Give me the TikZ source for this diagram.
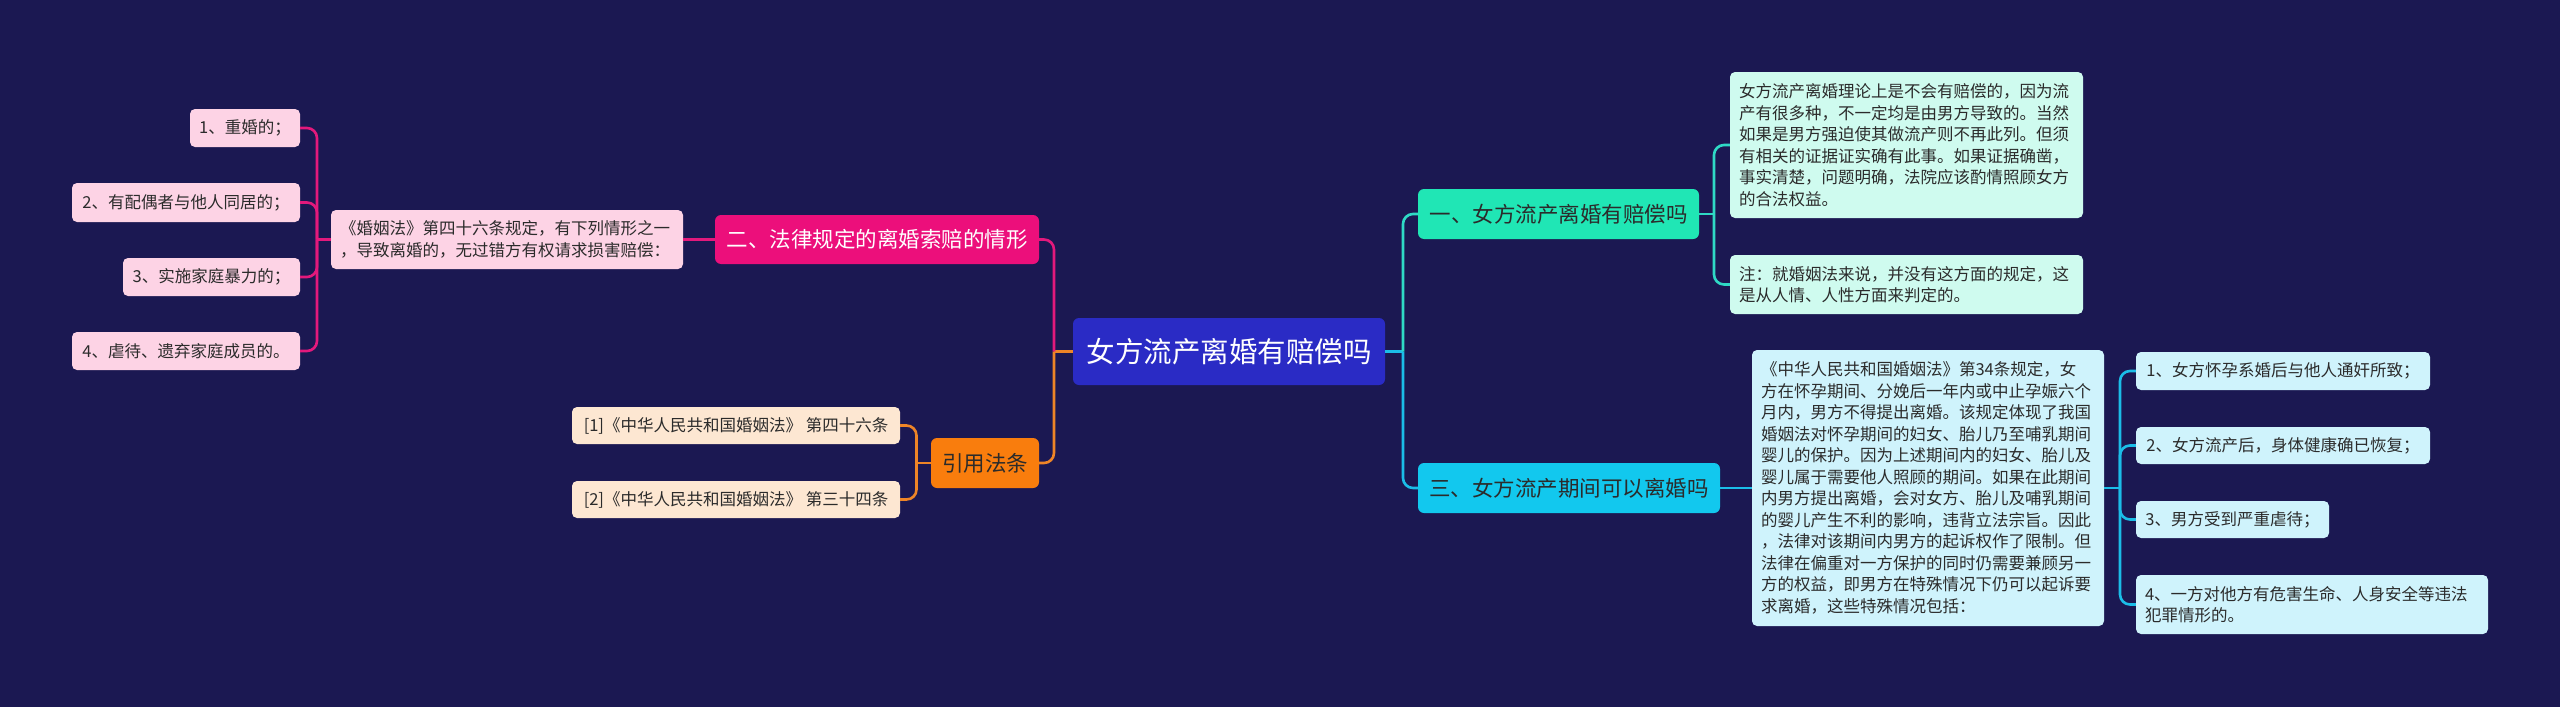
\documentclass[tikz,border=0pt]{standalone}
\usepackage{fontspec}
\setmainfont{Noto Sans CJK SC}
\definecolor{bg}{HTML}{1B1852}
\definecolor{rootfill}{HTML}{2A2BC5}
\definecolor{onefill}{HTML}{20E6B5}
\definecolor{threefill}{HTML}{12C8EE}
\definecolor{twofill}{HTML}{EC0F7B}
\definecolor{reffill}{HTML}{F97D0D}
\definecolor{afill}{HTML}{CFFBEF}
\definecolor{bfill}{HTML}{CFF3FC}
\definecolor{pfill}{HTML}{FDD3E5}
\definecolor{rfill}{HTML}{FDE7D2}
\definecolor{tealline}{HTML}{2FD9C5}
\definecolor{blueline}{HTML}{1BBDE8}
\definecolor{pinkline}{HTML}{E3197C}
\definecolor{orangeline}{HTML}{EE8527}
\definecolor{txt}{HTML}{2B2B2B}
\begin{document}
\begin{tikzpicture}[x=1pt,y=-1pt,
  base/.style={rounded corners=5pt, inner xsep=9pt, inner ysep=0pt,
    font=\fontsize{16.5}{21.5}\selectfont, text=txt},
  branch/.style={rounded corners=6pt, inner xsep=6pt, inner ysep=0pt,
    font=\fontsize{21.5}{26}\selectfont, text=txt, minimum height=50pt},
  conn/.style={line width=2.6pt, rounded corners=10pt},
  tl/.style={conn, draw=tealline},
  bl/.style={conn, draw=blueline},
  pl/.style={conn, draw=pinkline},
  ol/.style={conn, draw=orangeline}]
\fill[bg] (0,0) rectangle (2560,707);
\path[use as bounding box] (0,0) rectangle (2560,707);

% nodes
\node[rounded corners=6pt, fill=rootfill, text=white, font=\fontsize{28.5}{32}\selectfont,
  minimum width=312pt, minimum height=67pt, inner sep=0pt] (root) at (1229,351.5) {女方流产离婚有赔偿吗};

\node[branch, fill=onefill, minimum width=281pt] (n1) at (1558.5,214) {一、女方流产离婚有赔偿吗};
\node[branch, fill=threefill, minimum width=302pt] (n3) at (1569,488) {三、女方流产期间可以离婚吗};
\node[branch, fill=twofill, text=white, minimum width=324pt, minimum height=49pt] (n2) at (877,239.5) {二、法律规定的离婚索赔的情形};
\node[branch, fill=reffill, minimum width=108pt] (nref) at (985,463) {引用法条};

\node[base, fill=rfill, minimum width=328pt, minimum height=37pt] (r1) at (736,425.5) {[1]《中华人民共和国婚姻法》 第四十六条};
\node[base, fill=rfill, minimum width=328pt, minimum height=37pt] (r2) at (736,499.5) {[2]《中华人民共和国婚姻法》 第三十四条};

\node[base, fill=pfill, minimum height=59pt, text width=334pt, align=left] (law) at (507,239.5)
  {《婚姻法》第四十六条规定，有下列情形之一\\，导致离婚的，无过错方有权请求损害赔偿：};
\node[base, fill=pfill, minimum width=110pt, minimum height=38pt] (p1) at (245,128) {1、重婚的；};
\node[base, fill=pfill, minimum width=228pt, minimum height=39pt] (p2) at (186,202.5) {2、有配偶者与他人同居的；};
\node[base, fill=pfill, minimum width=177pt, minimum height=38pt] (p3) at (211.5,277) {3、实施家庭暴力的；};
\node[base, fill=pfill, minimum width=228pt, minimum height=38pt] (p4) at (186,351) {4、虐待、遗弃家庭成员的。};

\node[base, fill=afill, minimum height=146pt, text width=335pt, align=left] (a1) at (1906.5,145)
  {女方流产离婚理论上是不会有赔偿的，因为流\\产有很多种，不一定均是由男方导致的。当然\\如果是男方强迫使其做流产则不再此列。但须\\有相关的证据证实确有此事。如果证据确凿，\\事实清楚，问题明确，法院应该酌情照顾女方\\的合法权益。};
\node[base, fill=afill, minimum height=59pt, text width=335pt, align=left] (a2) at (1906.5,284.5)
  {注：就婚姻法来说，并没有这方面的规定，这\\是从人情、人性方面来判定的。};

\node[base, fill=bfill, minimum height=276pt, text width=334pt, align=left] (big) at (1928,488)
  {《中华人民共和国婚姻法》第34条规定，女\\方在怀孕期间、分娩后一年内或中止孕娠六个\\月内，男方不得提出离婚。该规定体现了我国\\婚姻法对怀孕期间的妇女、胎儿乃至哺乳期间\\婴儿的保护。因为上述期间内的妇女、胎儿及\\婴儿属于需要他人照顾的期间。如果在此期间\\内男方提出离婚，会对女方、胎儿及哺乳期间\\的婴儿产生不利的影响，违背立法宗旨。因此\\，法律对该期间内男方的起诉权作了限制。但\\法律在偏重对一方保护的同时仍需要兼顾另一\\方的权益，即男方在特殊情况下仍可以起诉要\\求离婚，这些特殊情况包括：};

\node[base, fill=bfill, minimum width=294pt, minimum height=38pt] (c1) at (2283,371) {1、女方怀孕系婚后与他人通奸所致；};
\node[base, fill=bfill, minimum width=294pt, minimum height=37pt] (c2) at (2283,445.5) {2、女方流产后，身体健康确已恢复；};
\node[base, fill=bfill, minimum width=193pt, minimum height=37pt] (c3) at (2232.5,519.5) {3、男方受到严重虐待；};
\node[base, fill=bfill, minimum height=59pt, text width=334pt, align=left] (c4) at (2312,604.5)
  {4、一方对他方有危害生命、人身安全等违法\\犯罪情形的。};

% junction coordinates
\coordinate (lb) at (1054,351.5);
\coordinate (rb) at (1403,351.5);
\coordinate (b1) at (1714,214);
\coordinate (bb) at (2120,488);
\coordinate (lawb) at (317,239.5);
\coordinate (refb) at (916.5,463);

% connectors
\draw[ol, rounded corners=0pt] (root.west) -- (lb);
\draw[pl] (lb) |- (n2.east);
\draw[ol] (lb) |- (nref.east);
\draw[bl, rounded corners=0pt] (root.east) -- (rb);
\draw[tl] (rb) |- (n1.west);
\draw[bl] (rb) |- (n3.west);

\draw[tl, rounded corners=0pt] (n1.east) -- (b1);
\draw[tl] (b1) |- (a1.west);
\draw[tl] (b1) |- (a2.west);

\draw[bl] (n3.east) -- (big.west);
\draw[bl, rounded corners=0pt] (big.east) -- (bb);
\draw[bl] (bb) |- (c1.west);
\draw[bl] (bb) |- (c2.west);
\draw[bl] (bb) |- (c3.west);
\draw[bl] (bb) |- (c4.west);

\draw[pl] (n2.west) -- (law.east);
\draw[pl, rounded corners=0pt] (law.west) -- (lawb);
\draw[pl] (lawb) |- (p1.east);
\draw[pl] (lawb) |- (p2.east);
\draw[pl] (lawb) |- (p3.east);
\draw[pl] (lawb) |- (p4.east);

\draw[ol, rounded corners=0pt] (nref.west) -- (refb);
\draw[ol] (refb) |- (r1.east);
\draw[ol] (refb) |- (r2.east);
\end{tikzpicture}
\end{document}
